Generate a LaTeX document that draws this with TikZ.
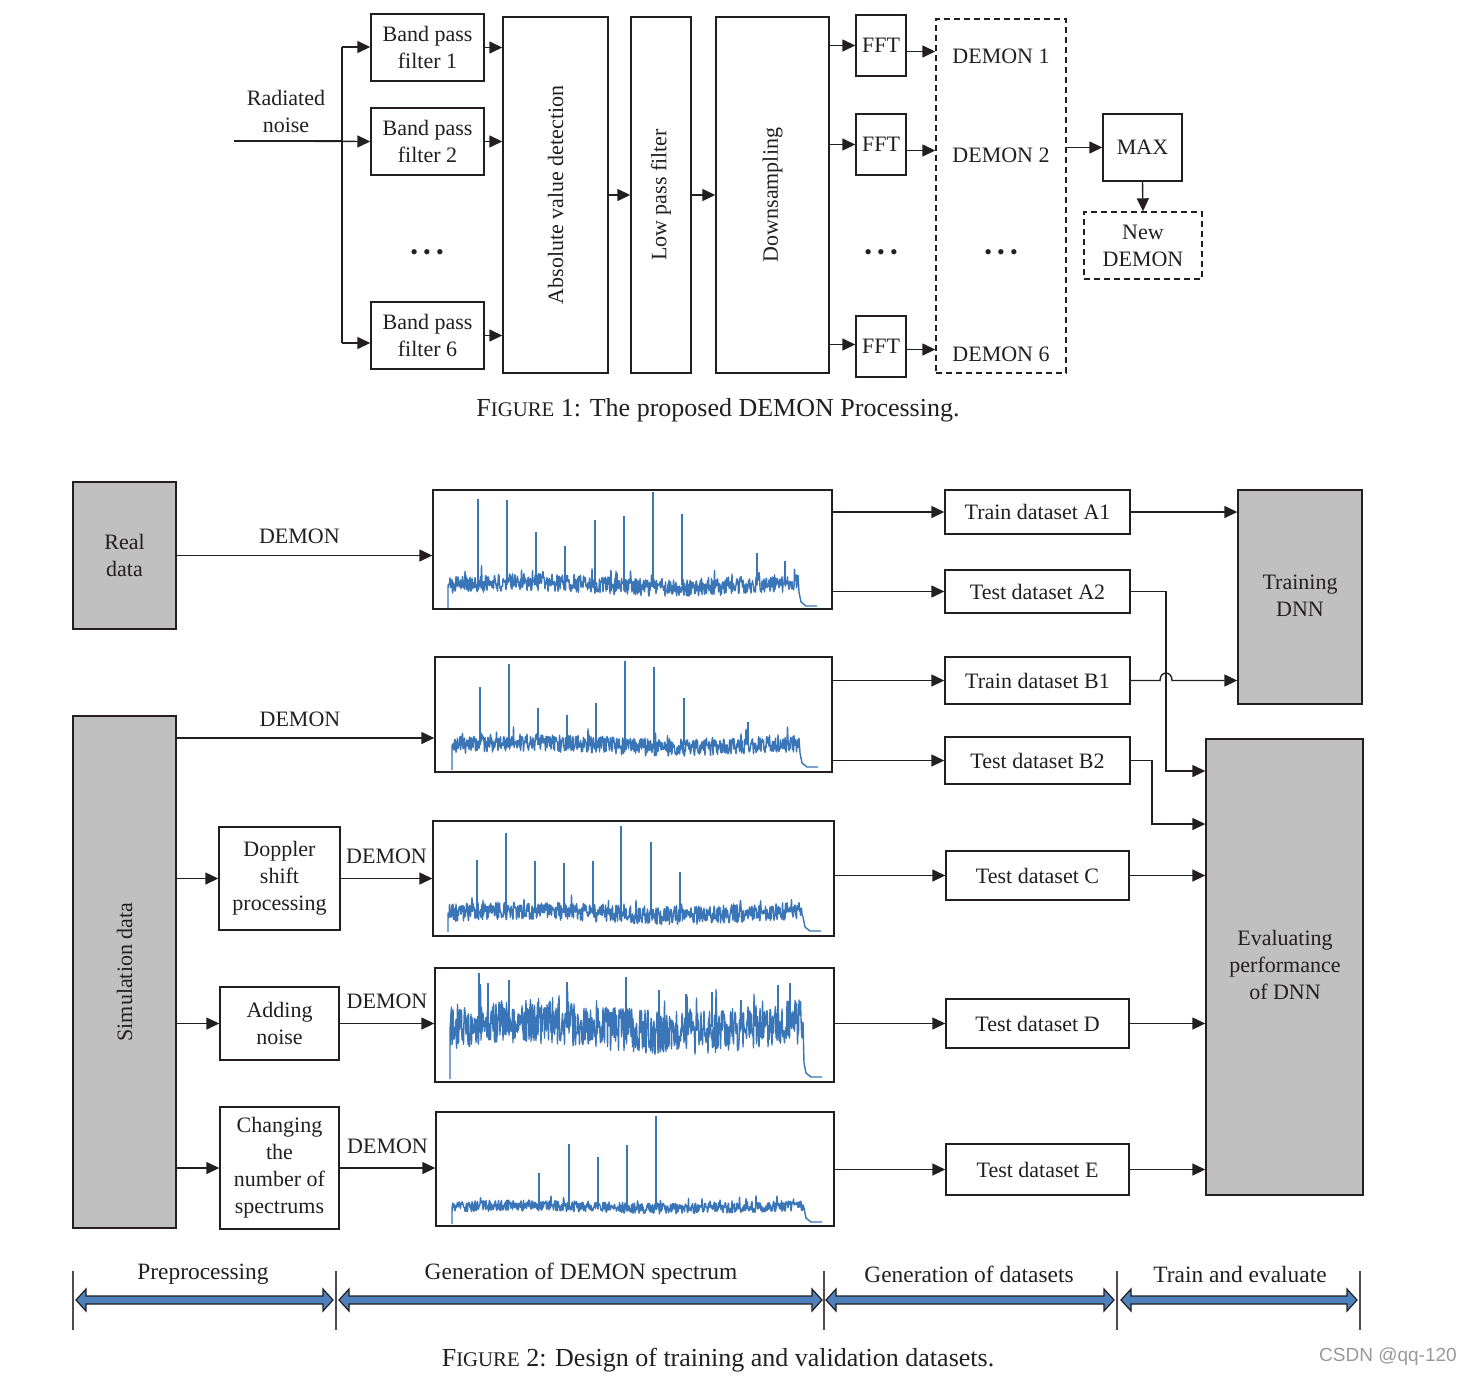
\documentclass[tikz,border=0pt]{standalone}
\usepackage{fontspec}
\setmainfont{Liberation Serif}
\newfontfamily\wmfont{Liberation Sans}
\usetikzlibrary{arrows.meta,calc}
\definecolor{ln}{RGB}{35,31,32}
\definecolor{gbox}{RGB}{192,192,192}
\definecolor{specblue}{RGB}{58,117,184}
\definecolor{barblue}{RGB}{79,129,189}
\tikzset{
  every node/.style={text=ln, font=\fontsize{11}{13.5}\selectfont},
  box/.style={draw=ln, line width=0.7pt, inner sep=0pt, align=center},
  dbox/.style={box, dash pattern=on 3pt off 2pt},
  graybox/.style={box, fill=gbox},
  conn/.style={draw=ln, line width=0.7pt},
  arr/.style={conn, -{Triangle[length=6.5pt,width=6pt]}},
  spec/.style={draw=specblue, line width=0.7pt, line join=round},
  lbl/.style={inner sep=1pt, align=center},
  caption/.style={font=\fontsize{13}{15}\selectfont, anchor=base},
  stage/.style={font=\fontsize{11.7}{13}\selectfont},
  bar/.style={draw=ln, line width=0.6pt, fill=barblue, line join=miter},
  divider/.style={draw=ln!80, line width=0.6pt},
  dots/.style={font=\fontsize{11}{12}\selectfont},
}
% box from corner (x1,y1) to (x2,y2): [style]{name}{x1}{y1}{x2}{y2}{text}
\newcommand{\bx}[7][]{%
  \node[box,#1,minimum width={(#5-#3)*0.5pt},minimum height={(#6-#4)*0.5pt}] (#2) at ({(#3+#5)/2},{(#4+#6)/2}) {#7};}
% noise trace: x0, x1, centre y, amplitude, foot y, flat y, wave amplitude
\newcommand{\noiseplot}[7]{%
  \pgfmathtruncatemacro\na{2*#1}\pgfmathtruncatemacro\nb{2*#2}%
  \draw[spec] (#1,#5) -- (#1,#3)
    \foreach \i in {\na,...,\nb} { -- ({\i/2},{#3 + #4*rand - 1.1*#4*(rand>0.85)*rnd - #7*sin(1.2*(\i/2-#1))}) }
    -- (#2+1,{#6-14}) -- (#2+3,{#6-4}) -- (#2+8,#6) -- (#2+19,#6);
}
\newcommand{\dblarr}[2]{%
  \draw[bar] (#1,1300) -- (#1+10,1289) -- (#1+10,1296) -- (#2-10,1296) -- (#2-10,1289) -- (#2,1300)
    -- (#2-10,1311) -- (#2-10,1304) -- (#1+10,1304) -- (#1+10,1311) -- cycle;
}
\newcommand{\threedots}{\textbullet\hspace{2.6pt}\textbullet\hspace{2.6pt}\textbullet}
\begin{document}
\begin{tikzpicture}[x=0.5pt,y=-0.5pt]
\pgfmathsetseed{4711}
\fill[white] (0,0) rectangle (1471,1377);
\useasboundingbox (0,0) rectangle (1471,1377);

%================ FIGURE 1 =================
\node[lbl] (rn) at (286,111) {Radiated\\noise};
\coordinate (in) at (234,141);
\coordinate (bus1) at (342,47);
\coordinate (bus6) at (342,343);

\bx{bp1}{371}{14}{484}{81}{Band pass\\filter 1}
\bx{bp2}{371}{108}{484}{175}{Band pass\\filter 2}
\bx{bp6}{371}{302}{484}{369}{Band pass\\filter 6}
\node[dots] (dots1) at (427,255) {\threedots};

\bx{abs}{503}{17}{608}{373}{}
\node[rotate=90] (abst) at (abs.center) {Absolute value detection};
\bx{lp}{631}{17}{691}{373}{}
\node[rotate=90] (lpt) at (lp.center) {Low pass filter};
\bx{ds}{716}{17}{829}{373}{}
\node[rotate=90] (dst) at (ds.center) {Downsampling};

\bx{fft1}{856}{15}{906}{76}{FFT}
\bx{fft2}{856}{114}{906}{175}{FFT}
\bx{fft6}{856}{316}{906}{377}{FFT}
\node[dots] (dots2) at (881,255) {\threedots};

\bx[dbox]{dm}{936}{19}{1066}{373}{}
\node (dm1) at (1001,56) {DEMON 1};
\node (dm2) at (1001,155) {DEMON 2};
\node[dots] (dots3) at (1001,255) {\threedots};
\node (dm6) at (1001,354) {DEMON 6};

\bx{max}{1103}{114}{1182}{181}{MAX}
\bx[dbox]{new}{1084}{212}{1202}{279}{New\\DEMON}

\draw[conn] (in) -- (bus1 |- in);
\draw[arr] (in) -- (bp2.west);
\draw[conn] (bus1) -- (bus6);
\draw[arr] (bus1) -- (bus1 -| bp1.west);
\draw[arr] (bus6) -- (bus6 -| bp6.west);
\draw[arr] (bp1.east) -- (bp1.east -| abs.west);
\draw[arr] (bp2.east) -- (bp2.east -| abs.west);
\draw[arr] (bp6.east) -- (bp6.east -| abs.west);
\draw[arr] (abs.east) -- (lp.west);
\draw[arr] (lp.east) -- (ds.west);
\draw[arr] (ds.east |- fft1.west) -- (fft1.west);
\draw[arr] (ds.east |- fft2.west) -- (fft2.west);
\draw[arr] ([yshift=1pt]ds.east |- fft6.west) -- ([yshift=1pt]fft6.west);
\draw[arr] ([yshift=-3pt]fft1.east) -- ([yshift=-3pt]fft1.east -| dm.west);
\draw[arr] ([yshift=-3pt]fft2.east) -- ([yshift=-3pt]fft2.east -| dm.west);
\draw[arr] ([yshift=-1.5pt]fft6.east) -- ([yshift=-1.5pt]fft6.east -| dm.west);
\draw[arr] (dm.east |- max.west) -- (max.west);
\draw[arr] (max.south) -- (new.north);

\node[caption] (cap1) at (718,416) {F{\fontsize{10.4}{12}\selectfont IGURE} 1: The proposed DEMON Processing.};

%================ FIGURE 2 =================
\bx[graybox]{real}{73}{482}{176}{629}{Real\\data}
\bx[graybox]{sim}{73}{716}{176}{1228}{}
\node[rotate=90] (simt) at (sim.center) {Simulation data};

\bx{dop}{219}{827}{340}{930}{Doppler\\shift\\processing}
\bx{noi}{220}{987}{339}{1060}{Adding\\noise}
\bx{chg}{220}{1107}{339}{1229}{Changing\\the\\number of\\spectrums}

\bx{sp1}{433}{490}{832}{609}{}
\bx{sp2}{435}{657}{832}{772}{}
\bx{sp3}{433}{821}{834}{936}{}
\bx{sp4}{435}{968}{834}{1082}{}
\bx{sp5}{436}{1112}{834}{1226}{}

% spectra
\noiseplot{448}{798}{585}{9}{608}{606}{2.5}
\foreach \sx/\sy in {478/499,507/500,536/532,565/546,595/520,624/516,653/492,682/514,757/553,785/561}
  \draw[spec] (\sx,585) -- (\sx,\sy);
\noiseplot{452}{799}{745}{9}{770}{767}{2.5}
\foreach \sx/\sy in {480/687,509/664,538/708,567/715,596/703,625/661,654/667,684/698,748/722}
  \draw[spec] (\sx,745) -- (\sx,\sy);
\noiseplot{448}{802}{913}{9}{932}{931}{2.5}
\foreach \sx/\sy in {477/860,506/833,535/861,564/863,593/861,621/826,651/842,680/872}
  \draw[spec] (\sx,913) -- (\sx,\sy);
\noiseplot{450}{803}{1027}{22}{1079}{1077}{6}
\foreach \sx/\sy in {479/973,488/983,509/980,567/982,626/977,659/990,686/994,712/992,741/1000,778/985,790/983}
  \draw[spec] (\sx,1027) -- (\sx,\sy);
\noiseplot{452}{803}{1207}{5.5}{1224}{1222}{1.5}
\foreach \sx/\sy in {539/1173,569/1144,598/1157,627/1145,656/1116}
  \draw[spec] (\sx,1207) -- (\sx,\sy);

\bx{a1}{945}{490}{1130}{534}{Train dataset A1}
\bx{a2}{945}{570}{1130}{613}{Test dataset A2}
\bx{b1}{945}{657}{1130}{704}{Train dataset B1}
\bx{b2}{945}{737}{1130}{784}{Test dataset B2}
\bx{tc}{946}{851}{1129}{900}{Test dataset C}
\bx{td}{946}{999}{1129}{1048}{Test dataset D}
\bx{te}{946}{1144}{1129}{1195}{Test dataset E}

\bx[graybox]{trn}{1238}{490}{1362}{704}{}
\node[lbl] (trnt) at (1300,596) {Training\\DNN};
\bx[graybox]{ev}{1206}{739}{1363}{1195}{}
\node[lbl] (evt) at (1285,965) {Evaluating\\performance\\of DNN};

% connectors
\draw[arr] (real.east) -- (real.east -| sp1.west) node[pos=0.48, above=2pt] {DEMON};
\coordinate (s2) at (176,738);
\draw[arr] (s2) -- (s2 -| sp2.west) node[pos=0.48, above=2pt] {DEMON};
\draw[arr] (sim.east |- dop.west) -- (dop.west);
\draw[arr] (sim.east |- noi.west) -- (noi.west);
\draw[arr] (sim.east |- chg.west) -- (chg.west);
\draw[arr] (dop.east) -- (dop.east -| sp3.west) node[midway, above=3.5pt] {DEMON};
\draw[arr] (noi.east) -- (noi.east -| sp4.west) node[midway, above=3.5pt] {DEMON};
\draw[arr] (chg.east) -- (chg.east -| sp5.west) node[midway, above=3.5pt] {DEMON};

\draw[arr] (sp1.east |- a1.west) -- (a1.west);
\draw[arr] (sp1.east |- a2.west) -- (a2.west);
\draw[arr] (sp2.east |- b1.west) -- (b1.west);
\draw[arr] (sp2.east |- b2.west) -- (b2.west);
\draw[arr] (sp3.east |- tc.west) -- (tc.west);
\draw[arr] (sp4.east |- td.west) -- (td.west);
\draw[arr] (sp5.east |- te.west) -- (te.west);

\draw[arr] (a1.east) -- (a1.east -| trn.west);
\coordinate (j1) at (1166,771);
\coordinate (j2) at (1152,824);
\draw[arr] (a2.east) -- (a2.east -| j1) -- (j1) -- (j1 -| ev.west);
\draw[arr] (b1.east) -- ([xshift=-3pt]b1.east -| j1) .. controls ([xshift=-3pt,yshift=5pt]b1.east -| j1) and ([xshift=3pt,yshift=5pt]b1.east -| j1) .. ([xshift=3pt]b1.east -| j1) -- (b1.east -| trn.west);
\draw[arr] (b2.east) -- (b2.east -| j2) -- (j2) -- (j2 -| ev.west);
\draw[arr] (tc.east) -- (tc.east -| ev.west);
\draw[arr] (td.east) -- (td.east -| ev.west);
\draw[arr] (te.east) -- (te.east -| ev.west);

% stages
\foreach \dx in {73,336,824,1117,1360}
  \draw[divider] (\dx,1271) -- (\dx,1330);
\dblarr{76}{333}
\dblarr{339}{822}
\dblarr{826}{1114}
\dblarr{1121}{1357}
\node[stage] (st1) at (203,1274) {Preprocessing};
\node[stage] (st2) at (581,1274) {Generation of DEMON spectrum};
\node[stage] (st3) at (969,1274) {Generation of datasets};
\node[stage] (st4) at (1240,1274) {Train and evaluate};

\node[caption] (cap2) at (718,1366) {F{\fontsize{10.4}{12}\selectfont IGURE} 2: Design of training and validation datasets.};
\node[font=\wmfont\fontsize{9.5}{11}\selectfont, text=black!40] (wm) at (1388,1357) {CSDN @qq-120};
\end{tikzpicture}
\end{document}
